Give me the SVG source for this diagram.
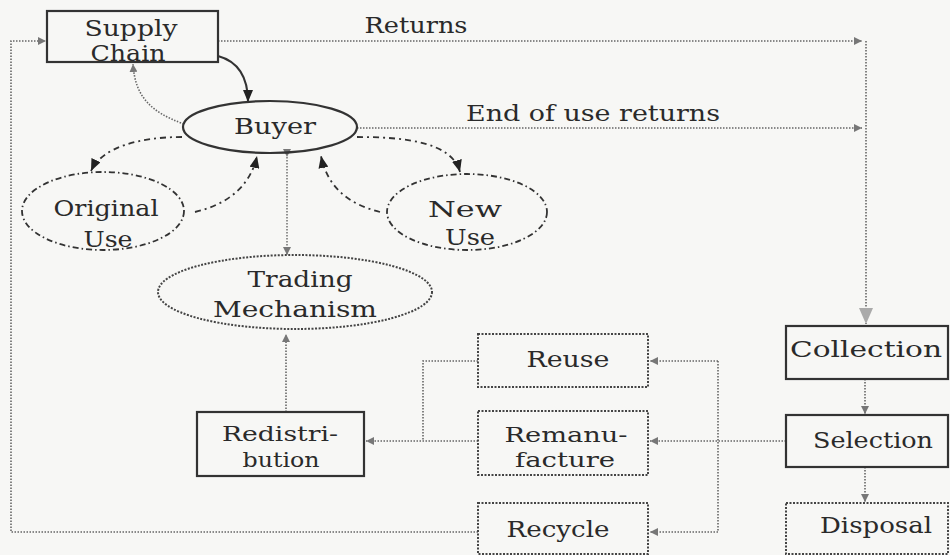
<svg xmlns="http://www.w3.org/2000/svg" width="950" height="555" viewBox="0 0 950 555">
<style>
  text { font-family: "DejaVu Serif", "Liberation Serif", serif; font-size: 23px; fill: #2a2a2a; text-anchor: middle; }
  .tight { font-size: 21px; }
  .solid { fill: none; stroke: #333; stroke-width: 2.2; }
  .dotbox { fill: none; stroke: #444; stroke-width: 2; stroke-dasharray: 2 1.5; }
  .dashdot { fill: none; stroke: #333; stroke-width: 1.8; stroke-dasharray: 6 3 1.5 3; }
  .conn { fill: none; stroke: #666; stroke-width: 1.6; stroke-dasharray: 1.5 1.5; }
  .dash { fill: none; stroke: #333; stroke-width: 1.8; stroke-dasharray: 6 4 2 4; }
  .dark { fill: none; stroke: #333; stroke-width: 2; }
</style>
<defs>
  <marker id="arrS" viewBox="0 0 8 8" refX="8" refY="4" markerWidth="8" markerHeight="8" markerUnits="userSpaceOnUse" orient="auto">
    <path d="M0,0 L8,4 L0,8 z" fill="#777"/>
  </marker>
  <marker id="arrB" viewBox="0 0 12 10" refX="12" refY="5" markerWidth="12" markerHeight="10" markerUnits="userSpaceOnUse" orient="auto">
    <path d="M0,0 L12,5 L0,10 z" fill="#222"/>
  </marker>
  <marker id="arrH" viewBox="0 0 16 14" refX="16" refY="7" markerWidth="16" markerHeight="14" markerUnits="userSpaceOnUse" orient="auto">
    <path d="M0,0 L16,7 L0,14 z" fill="#aaa"/>
  </marker>
</defs>
<rect x="0" y="0" width="950" height="555" fill="#f7f7f5"/>

<g id="connectors">
  <path class="conn" d="M218,41 H862" marker-end="url(#arrS)"/>
  <path class="conn" d="M866,41 V324" marker-end="url(#arrH)"/>
  <path class="conn" d="M357,128 H862" marker-end="url(#arrS)"/>
  <path class="dark" d="M218,56 C240,62 248,80 248,102" marker-end="url(#arrB)"/>
  <path class="conn" d="M184,124 C150,112 135,96 133,64" marker-end="url(#arrS)"/>
  <path class="dash" d="M182,137 C140,137 102,147 91,171" marker-end="url(#arrB)"/>
  <path class="dash" d="M195,212 C225,205 250,188 257,156" marker-end="url(#arrB)"/>
  <path class="dash" d="M357,137 C405,137 452,142 460,172" marker-end="url(#arrB)"/>
  <path class="dash" d="M380,212 C352,205 328,190 321,156" marker-end="url(#arrB)"/>
  <path class="conn" d="M287,157 V255" marker-start="url(#arrS)" marker-end="url(#arrS)" style="stroke-width:1.4"/>
  <path class="conn" d="M286,412 V334" marker-end="url(#arrS)"/>
  <path class="conn" d="M478,361 H423 V441"/>
  <path class="conn" d="M478,441 H366" marker-end="url(#arrS)"/>
  <path class="conn" d="M786,441 H650" marker-end="url(#arrS)"/>
  <path class="conn" d="M718,361 V532"/>
  <path class="conn" d="M718,361 H650" marker-end="url(#arrS)"/>
  <path class="conn" d="M718,532 H650" marker-end="url(#arrS)"/>
  <path class="conn" d="M478,532 H11 V41 H46" marker-end="url(#arrS)"/>
  <path class="conn" d="M865,379 V414" marker-end="url(#arrS)"/>
  <path class="conn" d="M865,467 V502" marker-end="url(#arrS)"/>
</g>

<g id="supply-chain">
  <rect class="solid" x="47" y="11" width="171" height="51"/>
  <text x="131" y="36" textLength="93" lengthAdjust="spacingAndGlyphs">Supply</text>
  <text x="128" y="61" textLength="75" lengthAdjust="spacingAndGlyphs">Chain</text>
</g>
<g id="returns-label">
  <text x="416" y="33" textLength="103" lengthAdjust="spacingAndGlyphs">Returns</text>
</g>
<g id="end-of-use-label">
  <text x="593" y="121" textLength="254" lengthAdjust="spacingAndGlyphs">End of use returns</text>
</g>
<g id="buyer">
  <ellipse class="solid" cx="270" cy="127" rx="87" ry="26"/>
  <text x="275" y="134" textLength="82" lengthAdjust="spacingAndGlyphs">Buyer</text>
</g>
<g id="original-use">
  <ellipse class="dashdot" cx="103" cy="211" rx="81" ry="39"/>
  <text x="106" y="216" textLength="105" lengthAdjust="spacingAndGlyphs">Original</text>
  <text x="108" y="247" textLength="49" lengthAdjust="spacingAndGlyphs">Use</text>
</g>
<g id="new-use">
  <ellipse class="dashdot" cx="467" cy="212" rx="80" ry="38"/>
  <text x="465" y="217" textLength="74" lengthAdjust="spacingAndGlyphs">New</text>
  <text x="470" y="245" textLength="50" lengthAdjust="spacingAndGlyphs">Use</text>
</g>
<g id="trading-mechanism">
  <ellipse class="dotbox" cx="295" cy="292" rx="137" ry="37"/>
  <text x="300" y="287" textLength="105" lengthAdjust="spacingAndGlyphs">Trading</text>
  <text x="295" y="317" textLength="164" lengthAdjust="spacingAndGlyphs">Mechanism</text>
</g>
<g id="redistribution">
  <rect class="solid" x="197" y="412" width="167" height="64"/>
  <text class="tight" x="280" y="441" textLength="116" lengthAdjust="spacingAndGlyphs">Redistri-</text>
  <text class="tight" x="281" y="467" textLength="77" lengthAdjust="spacingAndGlyphs">bution</text>
</g>
<g id="reuse">
  <rect class="dotbox" x="478" y="334" width="170" height="53"/>
  <text x="568" y="367" textLength="83" lengthAdjust="spacingAndGlyphs">Reuse</text>
</g>
<g id="remanufacture">
  <rect class="dotbox" x="478" y="411" width="170" height="64"/>
  <text class="tight" x="566" y="442" textLength="123" lengthAdjust="spacingAndGlyphs">Remanu-</text>
  <text class="tight" x="565" y="467" textLength="100" lengthAdjust="spacingAndGlyphs">facture</text>
</g>
<g id="recycle">
  <rect class="dotbox" x="478" y="503" width="170" height="51"/>
  <text x="558" y="537" textLength="103" lengthAdjust="spacingAndGlyphs">Recycle</text>
</g>
<g id="collection">
  <rect class="solid" x="786" y="326" width="162" height="53"/>
  <text x="866" y="357" textLength="152" lengthAdjust="spacingAndGlyphs">Collection</text>
</g>
<g id="selection">
  <rect class="solid" x="786" y="415" width="162" height="52"/>
  <text x="873" y="448" textLength="120" lengthAdjust="spacingAndGlyphs">Selection</text>
</g>
<g id="disposal">
  <rect class="dotbox" x="786" y="503" width="162" height="51"/>
  <text x="876" y="533" textLength="112" lengthAdjust="spacingAndGlyphs">Disposal</text>
</g>
</svg>
